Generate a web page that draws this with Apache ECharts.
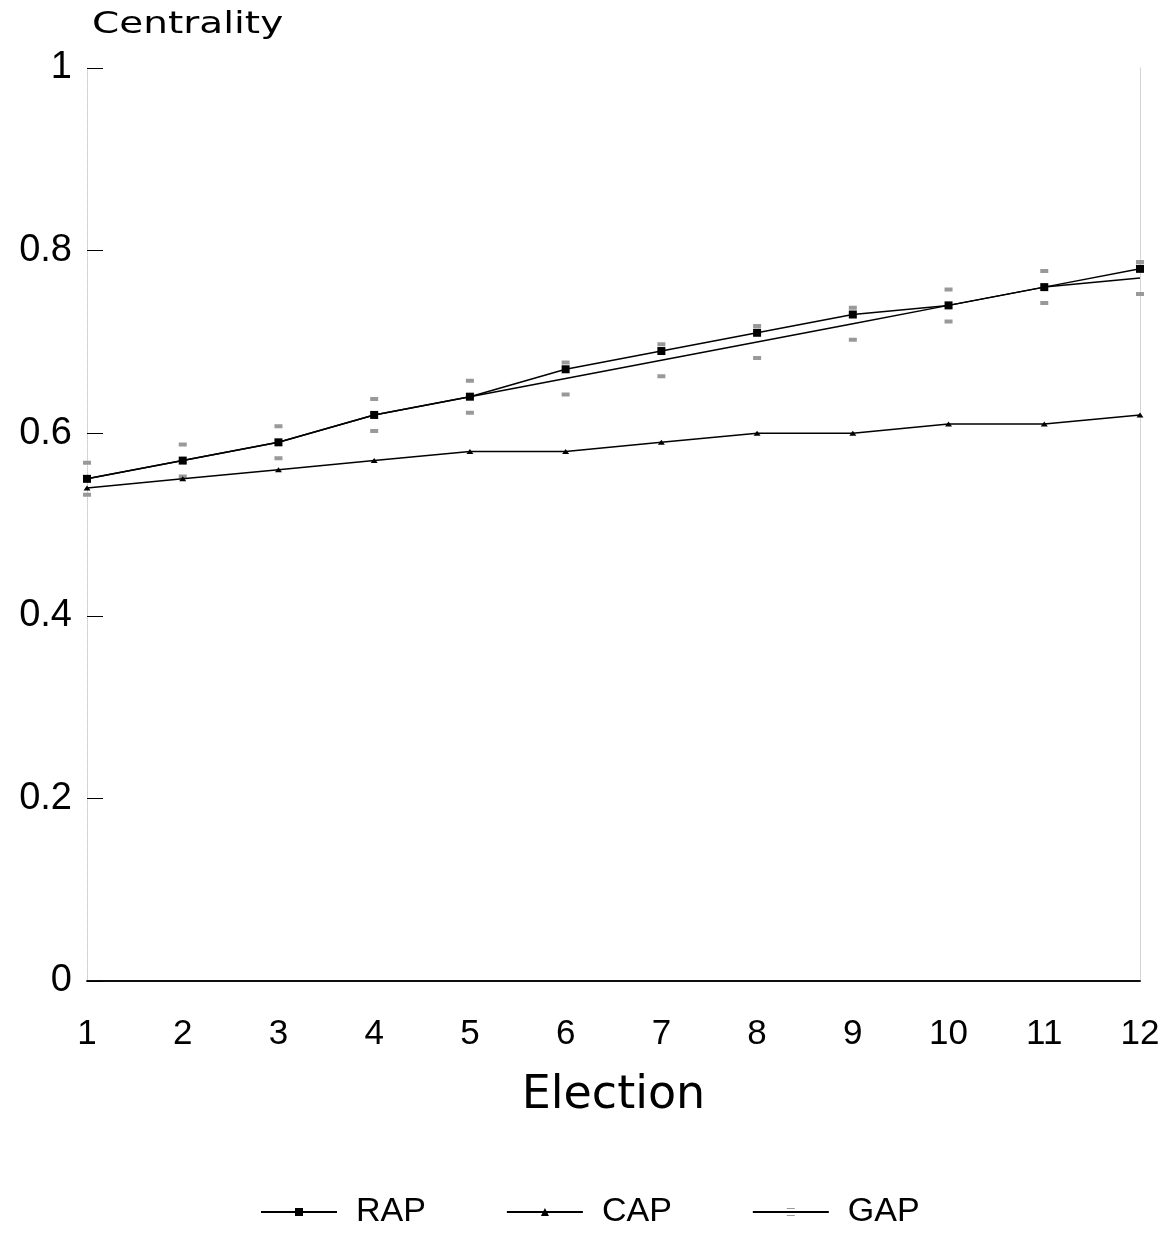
<!DOCTYPE html>
<html><head><meta charset="utf-8">
<script src="https://cdn.jsdelivr.net/npm/echarts@6/dist/echarts.min.js"></script>
<style>html,body{margin:0;padding:0;background:#fff}#c{width:1165px;height:1234px}</style>
</head><body><div id="c"></div>
<script>
const elections = ['1','2','3','4','5','6','7','8','9','10','11','12'];
const rap = [0.55,0.57,0.59,0.62,0.64,0.67,0.69,0.71,0.73,0.74,0.76,0.78];
const cap = [0.54,0.55,0.56,0.57,0.58,0.58,0.59,0.60,0.60,0.61,0.61,0.62];
const gap = [0.55,0.57,0.59,0.62,0.64,0.66,0.68,0.70,0.72,0.74,0.76,0.77];
const yTicks = [0,0.2,0.4,0.6,0.8,1];
const font = 'Liberation Sans, Arial, sans-serif';
const chart = echarts.init(document.getElementById('c'));
chart.setOption({
  animation:false,
  backgroundColor:'#fff',
  grid:{left:87,right:25,top:68,bottom:253},
  graphic:[{
    type:'text', left:92, top:10, scaleX:1.3, originX:0,
    style:{text:'Centrality', font:'30px "DejaVu Sans"', fill:'#000'}
  }],
  legend:{
    left:255, top:1190, itemWidth:76, itemHeight:10, itemGap:80,
    textStyle:{fontFamily:font,fontSize:34,color:'#000',padding:[0,0,0,14]},
    data:['RAP','CAP','GAP']
  },
  xAxis:[{
    type:'category', data:elections, boundaryGap:false,
    axisLine:{show:true,lineStyle:{color:'#000',width:1.5}},
    axisTick:{show:false},
    axisLabel:{fontFamily:font,fontSize:35,color:'#000',margin:36},
    name:'Election', nameLocation:'middle', nameGap:92,
    nameTextStyle:{fontFamily:'DejaVu Sans',fontSize:46,color:'#000'}
  },{
    type:'category', data:elections, boundaryGap:false, position:'top',
    axisLine:{show:true,lineStyle:{color:'#000',width:1.5}},
    axisTick:{show:false}, axisLabel:{show:false}
  }],
  yAxis:[{
    type:'value', min:0, max:1, interval:0.2,
    axisLine:{show:true,lineStyle:{color:'#ccc',width:1,type:'dotted'}},
    axisTick:{show:true,inside:true,length:16,lineStyle:{color:'#000',width:1}},
    splitLine:{show:false},
    axisLabel:{fontFamily:font,fontSize:38,color:'#000',margin:15,
      formatter:v=>{const t=yTicks.find(x=>Math.abs(x-v)<1e-9);return t===undefined?'':String(t);}}
  },{
    type:'value', min:0, max:1, interval:0.2, position:'right',
    axisLine:{show:true,lineStyle:{color:'#ccc',width:1,type:'dotted'}},
    axisTick:{show:false}, axisLabel:{show:false}, splitLine:{show:false}
  }],
  series:[
    {name:'RAP',type:'line',data:rap,symbol:'rect',symbolSize:8,z:4,
     lineStyle:{color:'#000',width:1.5},itemStyle:{color:'#000'}},
    {name:'CAP',type:'line',data:cap,symbol:'triangle',symbolSize:[7,5],z:3,
     lineStyle:{color:'#000',width:1.5},itemStyle:{color:'#000'}},
    {name:'GAP',type:'line',data:gap,z:2,
     symbol:'path://M4.2,0 L5.8,0 L5.8,4 L4.2,4 Z M4.2,32 L5.8,32 L5.8,36 L4.2,36 Z',symbolKeepAspect:false,symbolSize:[8,36],
     lineStyle:{color:'#000',width:1.5},itemStyle:{color:'#999'}}
  ]
});
</script></body></html>
